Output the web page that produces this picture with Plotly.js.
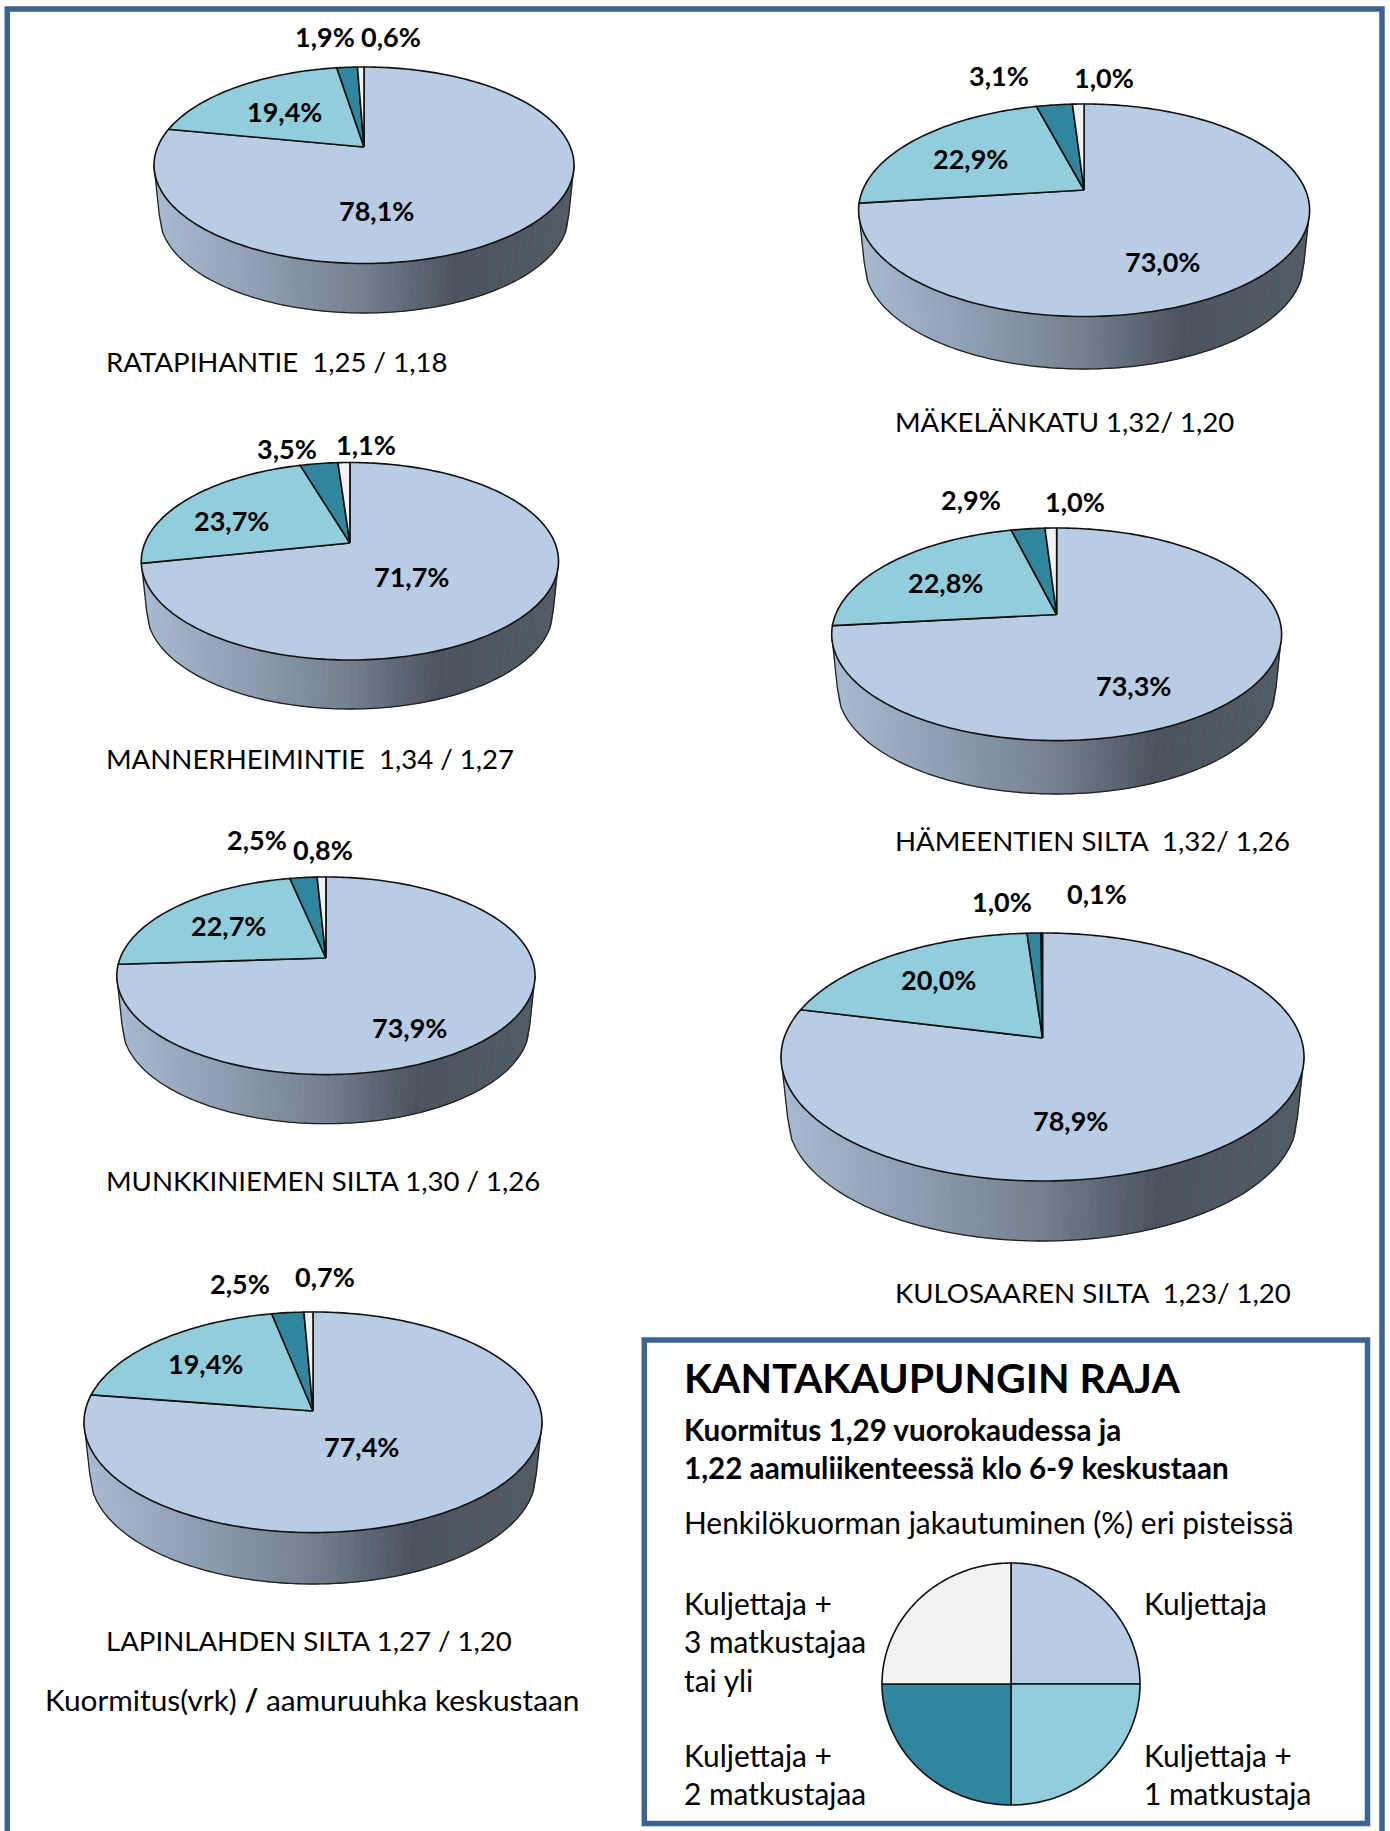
<!DOCTYPE html>
<html><head><meta charset="utf-8">
<script src="https://cdn.plot.ly/plotly-3.0.1.min.js"></script>
<style>html,body{margin:0;padding:0;background:#fff;overflow:hidden}#c{width:1390px;height:1831px}</style>
</head><body><div id="c"></div>
<script>
// ---- data ----
const categories = ['Kuljettaja','Kuljettaja + 1 matkustaja','Kuljettaja + 2 matkustajaa','Kuljettaja + 3 matkustajaa tai yli'];
const sites = ['RATAPIHANTIE','MÄKELÄNKATU','MANNERHEIMINTIE','HÄMEENTIEN SILTA','MUNKKINIEMEN SILTA','KULOSAAREN SILTA','LAPINLAHDEN SILTA'];
const ratapihantie = [78.1,19.4,1.9,0.6];
const makelankatu = [73.0,22.9,3.1,1.0];
const mannerheimintie = [71.7,23.7,3.5,1.1];
const hameentienSilta = [73.3,22.8,2.9,1.0];
const munkkiniemenSilta = [73.9,22.7,2.5,0.8];
const kulosaarenSilta = [78.9,20.0,1.0,0.1];
const lapinlahdenSilta = [77.4,19.4,2.5,0.7];
const legendShares = [25,25,25,25];
const captions = ['RATAPIHANTIE  1,25 / 1,18','MÄKELÄNKATU 1,32/ 1,20','MANNERHEIMINTIE  1,34 / 1,27','HÄMEENTIEN SILTA  1,32/ 1,26','MUNKKINIEMEN SILTA 1,30 / 1,26','KULOSAAREN SILTA  1,23/ 1,20','LAPINLAHDEN SILTA 1,27 / 1,20'];
const sliceColors = ['#b8cce4','#92cddc','#31859c','#f2f2f2'];

// ---- layout: [left, right, top, bottom, wallBottom, apexY] ----
const shares = [ratapihantie,makelankatu,mannerheimintie,hameentienSilta,munkkiniemenSilta,kulosaarenSilta,lapinlahdenSilta];
const geom = [
 [154,574,67,263.5,313,147],
 [858.6,1309.6,104,316.5,369,190],
 [141.3,558.5,462.5,660,709,543],
 [831.7,1281.6,528,740.6,794,614.5],
 [116.8,535,877,1074.6,1123.7,958],
 [781,1304,933,1181,1241,1038],
 [84,542,1312,1532.6,1584,1411]
];
// centre positions of percentage labels, same order as each share list
const labelPos = [
 [[376,212],[284.5,113],[325,38],[391,38]],
 [[1162.5,263],[970.5,160],[998.5,77],[1103.5,79]],
 [[411,578],[231,522],[287,450],[366,446]],
 [[1133,687],[945,584],[971,501],[1075,503]],
 [[409.5,1029],[228.5,927],[257,841],[323,851.5]],
 [[1070,1121.7],[938,980.7],[1002,903],[1097,895]],
 [[361.5,1448.5],[205.6,1365.5],[239.5,1285],[325,1278]]
];
const captionPos = [[104.5,363],[894,423],[104.5,760],[894,842],[104.5,1182],[894,1294],[104.5,1642]];
const wallStops = [[0,[168,186,209]],[0.25,[142,157,177]],[0.5,[116,127,143]],[0.72,[75,84,94]],[1,[82,92,100]]];
const FONT = 'Lato, Carlito, "Noto Sans", sans-serif';
const TEXT_LIFT = 1.6;

const traces = [];
const annotations = [];
function wallColor(f){
  for(let i=1;i<wallStops.length;i++){
    if(f<=wallStops[i][0]){
      const a=wallStops[i-1],b=wallStops[i],t=(f-a[0])/(b[0]-a[0]);
      return 'rgb('+a[1].map((c,j)=>Math.round(c+(b[1][j]-c)*t)).join(',')+')';
    }
  }
  return 'rgb(82,92,100)';
}
function poly(xs,ys,fill,line,w,name){
  traces.push({type:'scatter',mode:'lines',x:xs,y:ys,fill:fill?'toself':'none',fillcolor:fill||undefined,
    line:{color:line,width:w,simplify:false},hoverinfo:name?'text':'skip',text:name||undefined,showlegend:false});
}
function drawPie(vals,L,R,T,B,ay,outline){
  const cx=(L+R)/2,cy=(T+B)/2,rx=(R-L)/2,ry=(B-T)/2,k=(cy-ay)/ry,sq=Math.sqrt(1-k*k);
  const total=vals.reduce((a,b)=>a+b,0);
  let acc=0;
  vals.forEach((v,i)=>{
    const a0=acc/total*2*Math.PI; acc+=v; const a1=acc/total*2*Math.PI;
    const n=Math.max(2,Math.ceil((a1-a0)/0.02));
    const xs=[cx],ys=[ay];
    for(let j=0;j<=n;j++){
      const th=a0+(a1-a0)*j/n,u=Math.sin(th),w=Math.cos(th),d=1+k*w;
      xs.push(cx+rx*u*sq/d); ys.push(cy-ry*(w+k)/d);
    }
    xs.push(cx);ys.push(ay);
    poly(xs,ys,sliceColors[i],'#111',outline,categories[i]+': '+String(v).replace('.',',')+'%');
  });
}
function drawWall(L,R,T,B,W){
  const cx=(L+R)/2,cy=(T+B)/2,rx=(R-L)/2,ry=(B-T)/2,rx2=rx*0.975,d=W-B;
  const N=56;
  const pt=(c)=>{const s=Math.sqrt(Math.max(0,1-c*c));return [cx+rx*c,cy+ry*s,cx+rx2*c,cy+d+ry*s];};
  for(let i=0;i<N;i++){
    const c0=-1+2*i/N,c1=-1+2*(i+1)/N;
    const xs=[],ys=[],xb=[],yb=[];
    for(let j=0;j<=4;j++){const e=pt(c0+(c1-c0)*j/4);xs.push(e[0]);ys.push(e[1]);xb.unshift(e[2]);yb.unshift(e[3]);}
    const col=wallColor((i+0.5)/N);
    poly(xs.concat(xb,[xs[0]]),ys.concat(yb,[ys[0]]),col,col,0.8);
  }
  const xo=[],yo=[];
  for(let i=0;i<=120;i++){const c=-1+2*i/120,e=pt(c);xo.push(e[2]);yo.push(e[3]);}
  const a=pt(-1),b=pt(1);
  poly([a[0]].concat(xo,[b[0]]),[a[1]].concat(yo,[b[1]]),null,'#222',1.3);
}
function label(x,y,text,size,bold,anchor){
  annotations.push({xref:'x',yref:'y',x:x,y:y-TEXT_LIFT,text:text,showarrow:false,xanchor:anchor||'center',yanchor:'middle',
    align:'left',borderpad:0,font:{family:FONT,size:size,color:'#000',weight:bold?700:400}});
}
const fmt=v=>v.toFixed(1).replace('.',',')+'%';

shares.forEach((vals,p)=>{
  const g=geom[p];
  drawWall(g[0],g[1],g[2],g[3],g[4]);
  drawPie(vals,g[0],g[1],g[2],g[3],g[5],1.6);
  vals.forEach((v,i)=>label(labelPos[p][i][0],labelPos[p][i][1],fmt(v),27,true));
  label(captionPos[p][0],captionPos[p][1],captions[p],27.6,false,'left');
});
drawPie(legendShares,882,1140,1563,1805,1684,1.6);

const L1=682.5, L2=1143;
label(44,1701,'Kuormitus(vrk) <b>/</b> aamuruuhka keskustaan',29.8,false,'left');
label(L1,1379,'KANTAKAUPUNGIN RAJA',41,true,'left');
label(L1,1431,'Kuormitus 1,29 vuorokaudessa ja',29.6,true,'left');
label(L1,1469,'1,22 aamuliikenteessä klo 6-9 keskustaan',29.6,true,'left');
label(L1,1524,'Henkilökuorman jakautuminen (%) eri pisteissä',29.9,false,'left');
label(L1,1605,'Kuljettaja +',29.9,false,'left');
label(L1,1643,'3 matkustajaa',29.9,false,'left');
label(L1,1682,'tai yli',29.9,false,'left');
label(L1,1757,'Kuljettaja +',29.9,false,'left');
label(L1,1795,'2 matkustajaa',29.9,false,'left');
label(L2,1605,'Kuljettaja',29.9,false,'left');
label(L2,1757,'Kuljettaja +',29.9,false,'left');
label(L2,1795,'1 matkustaja',29.9,false,'left');

const FRAME='#3d6491';
const shapes=[
 {type:'rect',xref:'x',yref:'y',x0:7.25,x1:1382,y0:9,y1:1860,line:{color:FRAME,width:5.5},fillcolor:'rgba(0,0,0,0)',layer:'below'},
 {type:'rect',xref:'x',yref:'y',x0:644.3,x1:1367.5,y0:1340,y1:1823.5,line:{color:FRAME,width:5.5},fillcolor:'#ffffff',layer:'below'}
];
Plotly.newPlot('c',traces,{
  width:1390,height:1831,margin:{l:0,r:0,t:0,b:0},paper_bgcolor:'#fff',plot_bgcolor:'#fff',showlegend:false,
  hovermode:'closest',
  xaxis:{range:[0,1390],visible:false,fixedrange:true},
  yaxis:{range:[1831,0],visible:false,fixedrange:true},
  shapes:shapes,annotations:annotations
},{displayModeBar:false});
</script></body></html>
